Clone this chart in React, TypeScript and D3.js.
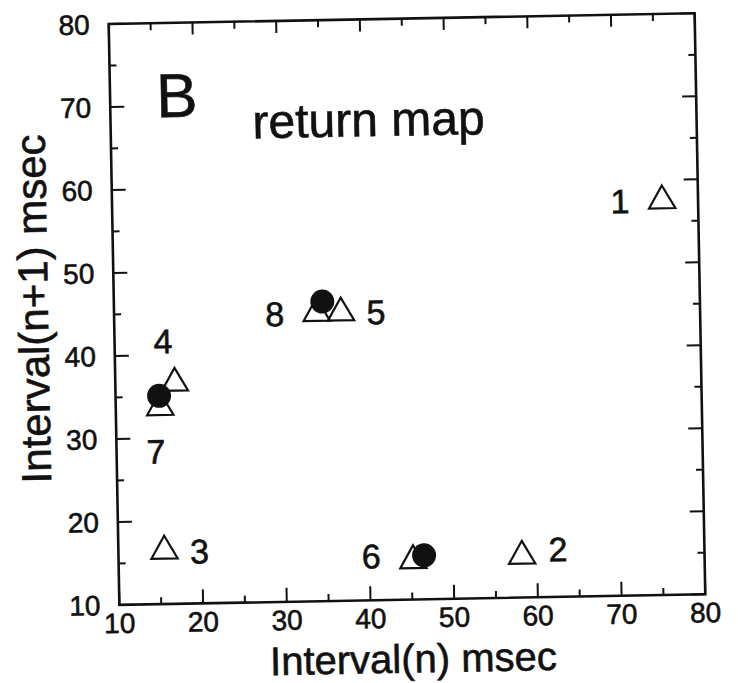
import React from "react";
import * as d3 from "d3";

// ---- data ----
const pointLabels = ["1", "2", "3", "4", "5", "6", "7", "8"];
const triX = [75.7, 58.2, 15.5, 17.1, 37.1, 45.2, 15.3, 34.2];
const triY = [57.5, 15.0, 16.4, 36.6, 44.7, 14.7, 33.7, 44.7];
const dotX = [15.2, 34.9, 46.5];
const dotY = [35.1, 46.1, 15.3];
const xTicks = [10, 20, 30, 40, 50, 60, 70, 80];
const yTicks = [10, 20, 30, 40, 50, 60, 70, 80];
const minorTicks = [15, 25, 35, 45, 55, 65, 75];
const panelLetter = "B";
const panelTitle = "return map";
const xTitle = "Interval(n) msec";
const yTitle = "Interval(n+1) msec";

// ---- layout ----
const W = 738;
const H = 683;
const L = 114, R = 700, T = 18.6, B = 599.6;
const CX = (L + R) / 2, CY = (T + B) / 2;
const TILT = -1.05;
const FONT = "'Liberation Sans', Arial, Helvetica, sans-serif";
// label offsets (px) relative to each triangle, same order as pointLabels
const labelDX = [-42, 36, 35, -11, 35, -42, -5, -42];
const labelDY = [0, -6, 1, -42, 0, -5, 44, 0];

export default function App() {
  const x = d3.scaleLinear().domain([10, 80]).range([L, R]);
  const y = d3.scaleLinear().domain([10, 80]).range([B, T]);
  const tri = d3.symbol().type(d3.symbolTriangle).size(300)();
  const MAJ = 14, MIN = 7;

  return (
    <svg width={W} height={H} style={{ display: "block", position: "absolute", left: 0, top: 0, background: "#fff" }}>
      <rect x={0} y={0} width={W} height={H} fill="#fff" />
      <g transform={`rotate(${TILT}, ${CX}, ${CY})`} fontFamily={FONT} fill="#111">
        {/* frame */}
        <rect x={L} y={T} width={R - L} height={B - T} fill="none" stroke="#111" strokeWidth={2.6} />
        {/* ticks */}
        {xTicks.map((t) => (
          <g key={"xt" + t} stroke="#111" strokeWidth={2}>
            <line x1={x(t)} x2={x(t)} y1={B} y2={B - MAJ} />
            <line x1={x(t)} x2={x(t)} y1={T} y2={T + MAJ - 2} />
          </g>
        ))}
        {minorTicks.map((t) => (
          <g key={"xm" + t} stroke="#111" strokeWidth={2}>
            <line x1={x(t)} x2={x(t)} y1={B} y2={B - MIN} />
            <line x1={x(t)} x2={x(t)} y1={T} y2={T + MIN} />
            <line x1={L} x2={L + MIN} y1={y(t)} y2={y(t)} />
            <line x1={R} x2={R - MIN} y1={y(t)} y2={y(t)} />
          </g>
        ))}
        {yTicks.map((t) => (
          <g key={"yt" + t} stroke="#111" strokeWidth={2}>
            <line x1={L} x2={L + MAJ} y1={y(t)} y2={y(t)} />
            <line x1={R} x2={R - MAJ} y1={y(t)} y2={y(t)} />
          </g>
        ))}
        <g stroke="#111" strokeWidth={0.6}>
          {/* tick labels */}
          {xTicks.map((t) => (
            <text key={"xl" + t} x={x(t)} y={B + 28} textAnchor="middle" fontSize={28}>
              {t}
            </text>
          ))}
          {yTicks.map((t) => (
            <text key={"yl" + t} x={L - 19} y={y(t) + 10} textAnchor="end" fontSize={28}>
              {t}
            </text>
          ))}
          {/* axis titles */}
          <text x={CX} y={B + 73} textAnchor="middle" fontSize={40}>
            {xTitle}
          </text>
          <text transform={`translate(${L - 66}, ${CY - 7}) rotate(-90)`} textAnchor="middle" fontSize={42}>
            {yTitle}
          </text>
          {/* panel texts */}
          <text x={L + 46} y={T + 94} fontSize={62}>
            {panelLetter}
          </text>
          <text x={256} y={T + 117} fontSize={48}>
            {panelTitle}
          </text>
          {/* point labels */}
          {pointLabels.map((s, i) => (
            <text
              key={"pl" + i}
              x={x(triX[i]) + labelDX[i]}
              y={y(triY[i]) + labelDY[i] + 12}
              textAnchor="middle"
              fontSize={34}
            >
              {s}
            </text>
          ))}
        </g>
        {/* triangles */}
        {triX.map((v, i) => (
          <path key={"tr" + i} d={tri} transform={`translate(${x(v)}, ${y(triY[i])})`} fill="none" stroke="#111" strokeWidth={2.2} />
        ))}
        {/* filled circles */}
        {dotX.map((v, i) => (
          <circle key={"dt" + i} cx={x(v)} cy={y(dotY[i])} r={12} fill="#111" />
        ))}
      </g>
    </svg>
  );
}
